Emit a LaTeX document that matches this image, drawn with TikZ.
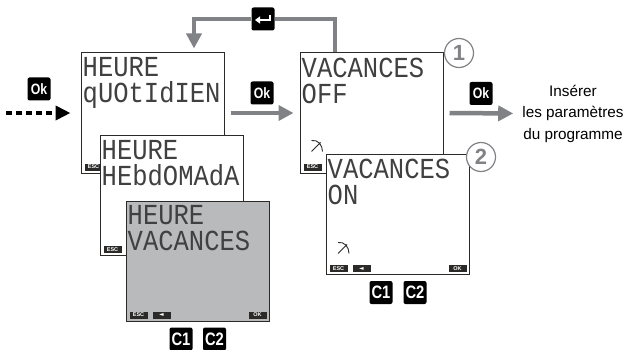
\documentclass[tikz,border=0pt]{standalone}
\usepackage{fontspec}
\setmainfont{Liberation Sans}
\newfontfamily\lcdfont[FakeStretch=0.88]{Liberation Mono}
\newfontfamily\symbfont{DejaVu Sans}
\newfontfamily\touchefont[FakeStretch=0.82]{Liberation Sans}
\usetikzlibrary{arrows.meta}

\definecolor{grisfleche}{HTML}{808285}
\definecolor{grisecran}{HTML}{B9BABC}
\definecolor{noirtrait}{HTML}{2B2A29}

\tikzset{
    ecran/.style={draw=noirtrait, line width=1pt, fill=white, minimum width=143pt, minimum height=120pt, inner sep=0pt},
    lcd/.style={anchor=north west, align=left, inner sep=0pt, text=black!75, font=\lcdfont\fontsize{29}{26}\selectfont},
    etiquette/.style={fill=noirtrait, text=white, minimum width=18pt, minimum height=7pt, inner sep=0pt, font=\bfseries\fontsize{5.5}{6}\selectfont},
    touche/.style={fill=black, text=white, rounded corners=2pt, minimum width=23pt, minimum height=23pt, inner sep=0pt, font=\touchefont\bfseries\fontsize{15}{15}\selectfont},
    toucheC/.style={touche, font=\touchefont\bfseries\fontsize{18}{18}\selectfont},
    numero/.style={circle, draw=grisfleche, line width=1.2pt, fill=white, minimum size=29pt, inner sep=0pt, text=grisfleche, font=\bfseries\fontsize{22}{22}\selectfont},
    flecheGrise/.style={draw=grisfleche, line width=4.5pt, -{Triangle[length=15pt,width=15pt]}},
    soleil/.pic={\draw[noirtrait, line width=0.9pt] (-6,-6) .. controls (0,-7) and (5,-2) .. (5,5) (-6,5) -- (3,-4);}
}

\begin{document}
\begin{tikzpicture}[x=1pt, y=-1pt]

    \useasboundingbox (0,0) rectangle (628,350);

    % Ecrans HEURE
    \node (Heure1) at (152.5,113) [ecran] {};
    \node (Heure1Texte) at ([shift={(2,5)}]Heure1.north west) [lcd] {HEURE\\qUOtIdIEN};
    \node (Heure1Esc) at ([shift={(13,-6.5)}]Heure1.south west) [etiquette] {ESC};

    \node (Heure2) at (171.5,195.5) [ecran] {};
    \node (Heure2Texte) at ([shift={(2,5)}]Heure2.north west) [lcd] {HEURE\\HEbdOMAdA};
    \node (Heure2Esc) at ([shift={(13,-6.5)}]Heure2.south west) [etiquette] {ESC};

    \node (Heure3) at (197.5,261) [ecran, fill=grisecran] {};
    \node (Heure3Texte) at ([shift={(2,5)}]Heure3.north west) [lcd] {HEURE\\VACANCES};
    \node (Heure3Esc) at ([shift={(13,-6.5)}]Heure3.south west) [etiquette] {ESC};
    \node (Heure3Retour) at ([xshift=23pt]Heure3Esc.center) [etiquette, font=\symbfont\fontsize{6}{6}\selectfont] {◄};
    \node (Heure3Ok) at ([shift={(-12,-6.5)}]Heure3.south east) [etiquette] {OK};

    % Ecrans VACANCES
    \node (Vacances1) at (371.5,113) [ecran] {};
    \node (Vacances1Texte) at ([shift={(2,5)}]Vacances1.north west) [lcd] {VACANCES\\OFF};
    \node (Vacances1Esc) at ([shift={(13,-6.5)}]Vacances1.south west) [etiquette] {ESC};
    \pic at (317.5,146.5) {soleil};
    \node (Numero1) at (459,53) [numero] {1};

    \node (Vacances2) at (397.5,214.5) [ecran] {};
    \node (Vacances2Texte) at ([shift={(2,5)}]Vacances2.north west) [lcd] {VACANCES\\ON};
    \node (Vacances2Esc) at ([shift={(13,-6.5)}]Vacances2.south west) [etiquette] {ESC};
    \node (Vacances2Retour) at ([xshift=23pt]Vacances2Esc.center) [etiquette, font=\symbfont\fontsize{6}{6}\selectfont] {◄};
    \node (Vacances2Ok) at ([shift={(-12,-6.5)}]Vacances2.south east) [etiquette] {OK};
    \pic at (344,248.5) {soleil};
    \node (Numero2) at (481,157) [numero] {2};

    % Touches
    \node (Ok1) at (39,89) [touche] {Ok};
    \node (Ok2) at (262,93) [touche] {Ok};
    \node (Ok3) at (481,93.5) [touche] {Ok};
    \node (Entree) at (263,19) [touche] {};
    \draw[white, line width=2pt, -{Triangle[length=5pt,width=7pt]}] ([shift={(7,-4)}]Entree.center) -- ([shift={(7,1)}]Entree.center) -- ([shift={(-8,1)}]Entree.center);
    \node (C1a) at (181,339) [toucheC] {C1};
    \node (C2a) at (214.5,339) [toucheC] {C2};
    \node (C1b) at (381,292.5) [toucheC] {C1};
    \node (C2b) at (415,292.5) [toucheC] {C2};

    % Texte final
    \node (Texte) at (573,113.5) [align=center, inner sep=0pt, font=\fontsize{15.3}{21.5}\selectfont] {Insérer\\les paramètres\\du programme};

    % Fleches
    \coordinate (Debut) at (6,113);
    \draw[black, line width=4pt, dash pattern=on 6pt off 4pt, -{Triangle[length=15pt,width=14pt]}, shorten >=10pt] (Debut) -- (Heure1.west);
    \draw[flecheGrise, shorten <=6pt, shorten >=6pt] (Heure1.east) -- (Vacances1.west);
    \draw[flecheGrise, shorten <=6pt, shorten >=9pt] (Vacances1.east) -- (Texte.west);

    % Retour vers HEURE
    \coordinate (Depart) at ([xshift=-36.5pt]Vacances1.north);
    \coordinate (Cible) at ([shift={(41.5,-4)}]Heure1.north);
    \draw[draw=grisfleche, line width=4.5pt] (Depart) |- (Entree.east);
    \draw[flecheGrise] (Entree.west) -| (Cible);

\end{tikzpicture}
\end{document}
